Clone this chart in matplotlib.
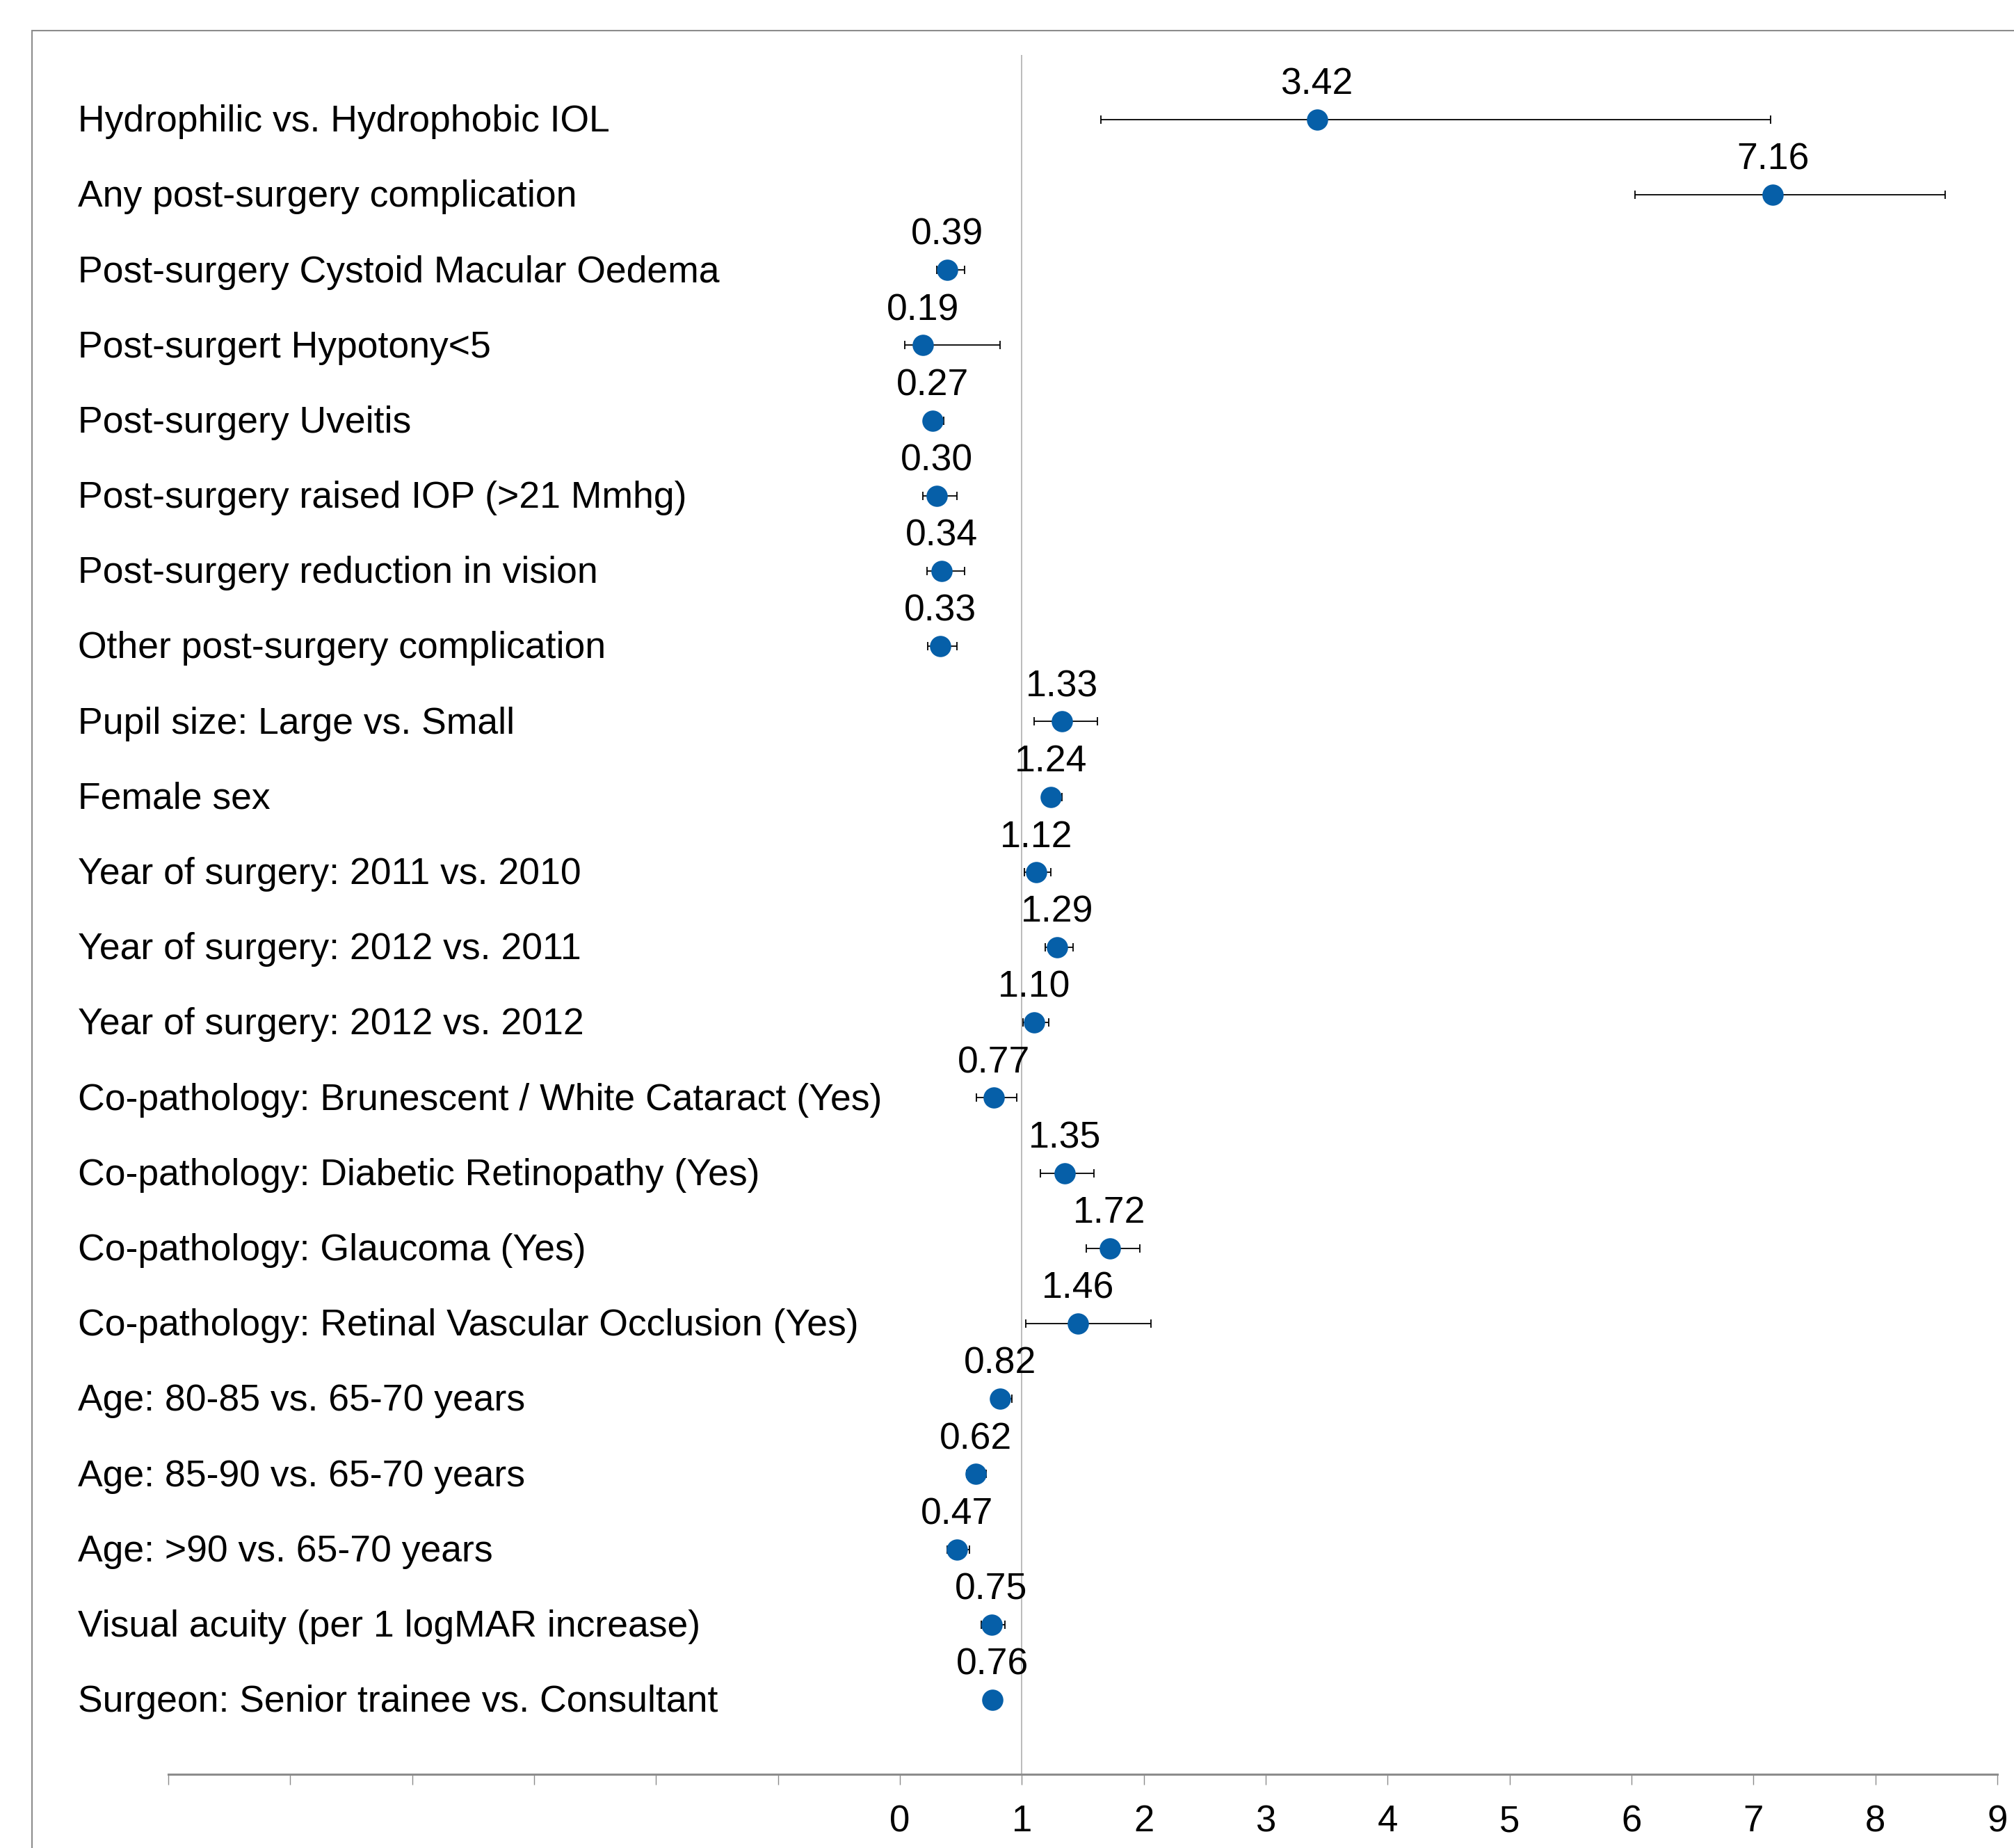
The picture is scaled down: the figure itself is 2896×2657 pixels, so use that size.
import matplotlib
matplotlib.use("Agg")
import matplotlib.pyplot as plt
from matplotlib.patches import Rectangle

plt.rcParams['font.family'] = ['Liberation Sans', 'DejaVu Sans']

# Odds ratios with 95% confidence limits, top row first
factors = [
    "Hydrophilic vs. Hydrophobic IOL",
    "Any post-surgery complication",
    "Post-surgery Cystoid Macular Oedema",
    "Post-surgert Hypotony<5",
    "Post-surgery Uveitis",
    "Post-surgery raised IOP (>21 Mmhg)",
    "Post-surgery reduction in vision",
    "Other post-surgery complication",
    "Pupil size: Large vs. Small",
    "Female sex",
    "Year of surgery: 2011 vs. 2010",
    "Year of surgery: 2012 vs. 2011",
    "Year of surgery: 2012 vs. 2012",
    "Co-pathology: Brunescent / White Cataract (Yes)",
    "Co-pathology: Diabetic Retinopathy (Yes)",
    "Co-pathology: Glaucoma (Yes)",
    "Co-pathology: Retinal Vascular Occlusion (Yes)",
    "Age: 80-85 vs. 65-70 years",
    "Age: 85-90 vs. 65-70 years",
    "Age: >90 vs. 65-70 years",
    "Visual acuity (per 1 logMAR increase)",
    "Surgeon: Senior trainee vs. Consultant",
]
odds_ratio = [3.42, 7.16, 0.39, 0.19, 0.27, 0.30, 0.34, 0.33, 1.33, 1.24, 1.12,
              1.29, 1.10, 0.77, 1.35, 1.72, 1.46, 0.82, 0.62, 0.47, 0.75, 0.76]
ci_lower = [1.65, 6.03, 0.30, 0.04, 0.20, 0.19, 0.22, 0.23, 1.10, 1.17, 1.02,
            1.19, 1.01, 0.63, 1.15, 1.53, 1.03, 0.75, 0.55, 0.39, 0.67, 0.72]
ci_upper = [7.14, 8.57, 0.53, 0.82, 0.36, 0.47, 0.53, 0.47, 1.62, 1.33, 1.24,
            1.42, 1.22, 0.96, 1.59, 1.97, 2.06, 0.92, 0.71, 0.57, 0.86, 0.80]

x_ticks = list(range(-6, 10))
x_tick_labels = ["" if t < 0 else str(t) for t in x_ticks]

W, H = 2896, 2657
fig = plt.figure(figsize=(W / 100, H / 100), dpi=100)

# outer frame (open to the right and bottom)
frame = Rectangle((46 / W, -0.2), 1.2, 0.2 + 1 - 44 / H,
                  transform=fig.transFigure, fill=False,
                  edgecolor='#8c8c8c', linewidth=1.5)
fig.add_artist(frame)

ax_left, ax_right = 242 / W, 2872 / W
ax_top, ax_bottom = 1 - 79 / H, 1 - 2551 / H
ax = fig.add_axes([ax_left, ax_bottom, ax_right - ax_left, ax_top - ax_bottom])

rows = list(range(len(factors)))
xerr = [[o - lo for o, lo in zip(odds_ratio, ci_lower)],
        [hi - o for o, hi in zip(odds_ratio, ci_upper)]]

ax.axvline(1, color='#a8a8a8', linewidth=1.1, zorder=1)
ax.errorbar(odds_ratio, rows, xerr=xerr, fmt='none', ecolor='black',
            elinewidth=1.3, capsize=4.5, capthick=1.3, zorder=2)
ax.plot(odds_ratio, rows, 'o', color='#065FA8', markersize=22,
        markeredgewidth=0, zorder=3)

for r, o in zip(rows, odds_ratio):
    ax.text(o, r - 0.335, f"{o:.2f}", ha='center', va='baseline',
            fontsize=38.5, color='black', zorder=4)

# factor names at the left margin
label_x = (112 / W - ax_left) / (ax_right - ax_left)
for r, name in zip(rows, factors):
    ax.text(label_x, r + 0.16, name, transform=ax.get_yaxis_transform(),
            ha='left', va='baseline', fontsize=38.5, color='black',
            clip_on=False)

ax.set_xlim(-6, 9)
ax.set_ylim(21.99, -0.858)
ax.set_xticks(x_ticks)
ax.set_xticklabels(x_tick_labels)
ax.set_yticks([])
for side in ('top', 'right', 'left'):
    ax.spines[side].set_visible(False)
ax.spines['bottom'].set_color('#8c8c8c')
ax.spines['bottom'].set_linewidth(2.2)
ax.tick_params(axis='x', direction='out', length=11, width=1.0,
               color='#8c8c8c', labelsize=38, pad=20)
ax.patch.set_alpha(0)

fig.savefig("out.png", dpi=100, facecolor='white')
